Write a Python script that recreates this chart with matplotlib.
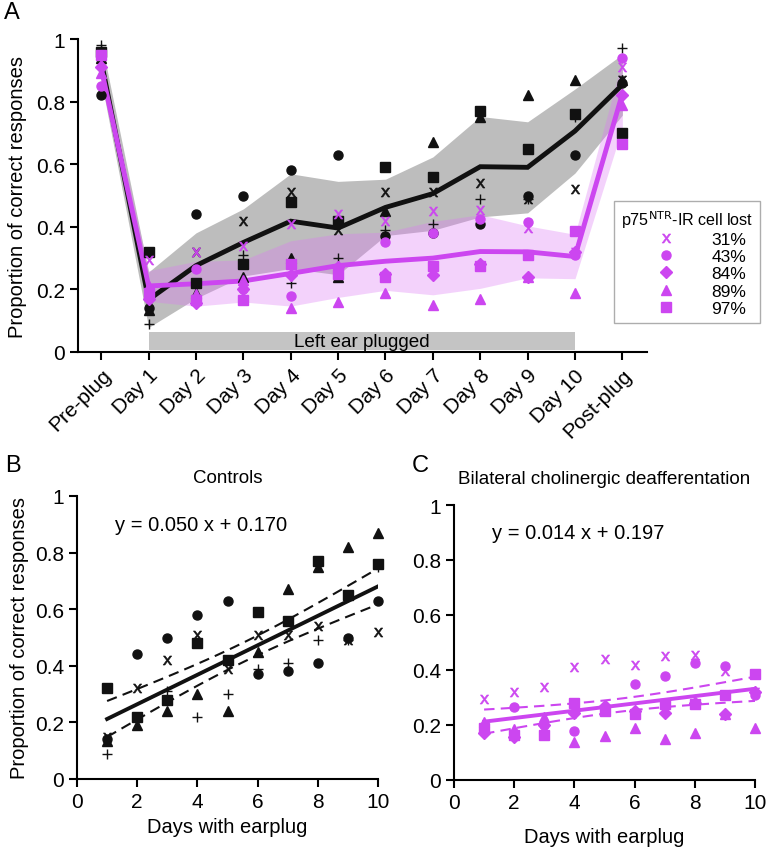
import numpy as np
import matplotlib
matplotlib.use('Agg')
import matplotlib.pyplot as plt
from matplotlib.lines import Line2D

plt.rcParams['font.family'] = ['Liberation Sans', 'DejaVu Sans']
plt.rcParams['axes.linewidth'] = 1.5
plt.rcParams['xtick.major.width'] = 1.5
plt.rcParams['ytick.major.width'] = 1.5
plt.rcParams['xtick.major.size'] = 6
plt.rcParams['ytick.major.size'] = 6

# ---------------- data ----------------
phase_labels = ['Pre-plug'] + [f'Day {d}' for d in range(1, 11)] + ['Post-plug']
days = np.arange(1, 11)
y_ticks = [0, 0.2, 0.4, 0.6, 0.8, 1]
y_tick_labels = ['0', '0.2', '0.4', '0.6', '0.8', '1']
x_ticks_bc = [0, 2, 4, 6, 8, 10]

# Controls (Pre-plug, Day 1..10, Post-plug)
ctrl_x      = [0.95, 0.15, 0.32, 0.42, 0.51, 0.39, 0.51, 0.51, 0.54, 0.49, 0.52, 0.87]
ctrl_circle = [0.82, 0.14, 0.44, 0.50, 0.58, 0.63, 0.37, 0.38, 0.41, 0.50, 0.63, 0.86]
ctrl_plus   = [0.98, 0.09, 0.21, 0.31, 0.22, 0.30, 0.39, 0.41, 0.49, 0.49, 0.75, 0.97]
ctrl_tri    = [0.94, 0.135, 0.19, 0.24, 0.30, 0.24, 0.45, 0.67, 0.75, 0.82, 0.87, 0.87]
ctrl_sq     = [0.96, 0.32, 0.22, 0.28, 0.48, 0.42, 0.59, 0.56, 0.77, 0.65, 0.76, 0.70]

# Bilateral cholinergic deafferentation (p75NTR-IR cell lost)
deaf_labels = ['31%', '43%', '84%', '89%', '97%']
deaf_x       = [0.93, 0.295, 0.32, 0.34, 0.41, 0.44, 0.42, 0.45, 0.455, 0.395, 0.32, 0.91]
deaf_circle  = [0.85, 0.19, 0.265, 0.20, 0.18, 0.26, 0.35, 0.38, 0.425, 0.415, 0.31, 0.94]
deaf_diamond = [0.91, 0.17, 0.155, 0.20, 0.245, 0.27, 0.25, 0.245, 0.28, 0.24, 0.32, 0.82]
deaf_tri     = [0.89, 0.21, 0.185, 0.23, 0.14, 0.16, 0.19, 0.15, 0.17, 0.24, 0.19, 0.79]
deaf_sq      = [0.95, 0.19, 0.165, 0.165, 0.28, 0.25, 0.24, 0.275, 0.275, 0.31, 0.385, 0.665]

eq_ctrl = 'y = 0.050 x + 0.170'
eq_deaf = 'y = 0.014 x + 0.197'

# ---------------- styles ----------------
PURPLE = '#CC46F0'
BLACK = '#111111'
XMARK = r'$\mathsf{x}$'
# (values, marker, size, edge width)
ctrl_series = [(ctrl_x, XMARK, 6.5, 0.4), (ctrl_circle, 'o', 6.5, 1.0), (ctrl_plus, '+', 7.5, 1.0),
               (ctrl_tri, '^', 7.5, 1.0), (ctrl_sq, 's', 6.5, 1.0)]
deaf_series = [(deaf_x, XMARK, 6.5, 0.4), (deaf_circle, 'o', 6.5, 1.0), (deaf_diamond, 'D', 6, 1.0),
               (deaf_tri, '^', 7.5, 1.0), (deaf_sq, 's', 6.5, 1.0)]

FT = 15      # tick font size
FL = 14.5    # label font size

W, H = 782, 853
fig = plt.figure(figsize=(W / 100, H / 100), dpi=100)

def frac(l, t, r, b):
    return [l / W, 1 - b / H, (r - l) / W, (b - t) / H]

# ---------------- Panel A ----------------
axA = fig.add_axes(frac(78, 40, 647, 353))
pos = np.arange(len(phase_labels))
C = np.array([s[0] for s in ctrl_series])
D = np.array([s[0] for s in deaf_series])
cm, cs = C.mean(0), C.std(0, ddof=1)
dm, ds = D.mean(0), D.std(0, ddof=1)

axA.fill_between(pos, cm - cs, cm + cs, color='#BDBDBD', lw=0, zorder=1)
axA.fill_between(pos, dm - ds, dm + ds, color='#DD77F5', alpha=0.33, lw=0, zorder=2)
axA.add_patch(plt.Rectangle((1, 0.005), 9, 0.06, color='#C4C4C4', lw=0, zorder=1))
axA.text(5.5, 0.035, 'Left ear plugged', ha='center', va='center', fontsize=13.6, zorder=3)

axA.plot(pos, cm, color=BLACK, lw=3.5, zorder=4, solid_joinstyle='miter')
axA.plot(pos, dm, color=PURPLE, lw=3.5, zorder=5, solid_joinstyle='miter')

for vals, m, ms, mw in ctrl_series:
    axA.plot(pos, vals, ls='none', marker=m, ms=ms, color=BLACK, mew=mw, zorder=6, clip_on=False)
for vals, m, ms, mw in deaf_series:
    axA.plot(pos, vals, ls='none', marker=m, ms=ms, color=PURPLE, mew=mw, zorder=6, clip_on=False)

axA.set_xlim(-0.49, 11.52)
axA.set_ylim(0, 1)
axA.set_xticks(pos)
axA.set_xticklabels(phase_labels, rotation=45, ha='right', rotation_mode='anchor', fontsize=FT)
axA.set_yticks(y_ticks)
axA.set_yticklabels(y_tick_labels, fontsize=FT)
axA.set_ylabel('Proportion of correct responses', fontsize=FL, labelpad=6)
for s in ['top', 'right']:
    axA.spines[s].set_visible(False)

handles = [Line2D([], [], ls='none', marker=m, ms=ms, color=PURPLE, mew=mw)
           for (_, m, ms, mw) in deaf_series]
leg = fig.legend(handles, deaf_labels, loc='upper left', bbox_to_anchor=(614 / W, 1 - 202 / H),
                 title=r'p75$^{\mathrm{NTR}}$-IR cell lost', fontsize=12.5, title_fontsize=11.6,
                 frameon=True, fancybox=False, edgecolor='#999999', handletextpad=0.4,
                 labelspacing=0.12, borderpad=0.4, handlelength=4.4, borderaxespad=0)
leg.get_frame().set_linewidth(1.0)

fig.text(4 / W, 1 - 13 / H, 'A', fontsize=17, ha='left', va='center')

# ---------------- Panels B and C ----------------
def scatter_panel(ax, series, color, eq):
    allx, ally = [], []
    for vals, m, ms, mw in series:
        v = np.array(vals[1:11])
        ax.plot(days, v, ls='none', marker=m, ms=ms, color=color, mew=mw, zorder=4, clip_on=False)
        allx.append(days); ally.append(v)
    allx = np.concatenate(allx); ally = np.concatenate(ally)
    slope, icpt = np.polyfit(allx, ally, 1)
    n = len(allx)
    resid = ally - (slope * allx + icpt)
    s = np.sqrt((resid ** 2).sum() / (n - 2))
    xx = np.linspace(1, 10, 50)
    yy = slope * xx + icpt
    se = s * np.sqrt(1 / n + (xx - allx.mean()) ** 2 / ((allx - allx.mean()) ** 2).sum())
    t = 2.01
    ax.plot(xx, yy, color=color, lw=2.8, zorder=3)
    ax.plot(xx, yy + t * se, color=color, lw=1.5, ls=(0, (5, 3)), zorder=3)
    ax.plot(xx, yy - t * se, color=color, lw=1.5, ls=(0, (5, 3)), zorder=3)
    ax.set_xlim(0, 10)
    ax.set_ylim(0, 1)
    ax.set_xticks(x_ticks_bc)
    ax.set_xticklabels([str(v) for v in x_ticks_bc], fontsize=FT)
    ax.set_yticks(y_ticks)
    ax.set_yticklabels(y_tick_labels, fontsize=FT)
    ax.text(1.25, 0.9, eq, fontsize=FL, ha='left', va='center')
    for sp in ['top', 'right']:
        ax.spines[sp].set_visible(False)

axB = fig.add_axes(frac(77, 497, 378, 780))
scatter_panel(axB, ctrl_series, BLACK, eq_ctrl)
axB.set_title('Controls', fontsize=13.5, pad=10)
axB.set_ylabel('Proportion of correct responses', fontsize=FL, labelpad=4)
axB.set_xlabel('Days with earplug', fontsize=FL, labelpad=4)

axC = fig.add_axes(frac(454, 506, 755, 781))
scatter_panel(axC, deaf_series, PURPLE, eq_deaf)
axC.set_title('Bilateral cholinergic deafferentation', fontsize=13.5, pad=16)
axC.set_xlabel('Days with earplug', fontsize=FL, labelpad=11)

fig.text(5 / W, 1 - 466 / H, 'B', fontsize=17, ha='left', va='center')
fig.text(412 / W, 1 - 466 / H, 'C', fontsize=17, ha='left', va='center')

fig.savefig('out.png', dpi=100)
